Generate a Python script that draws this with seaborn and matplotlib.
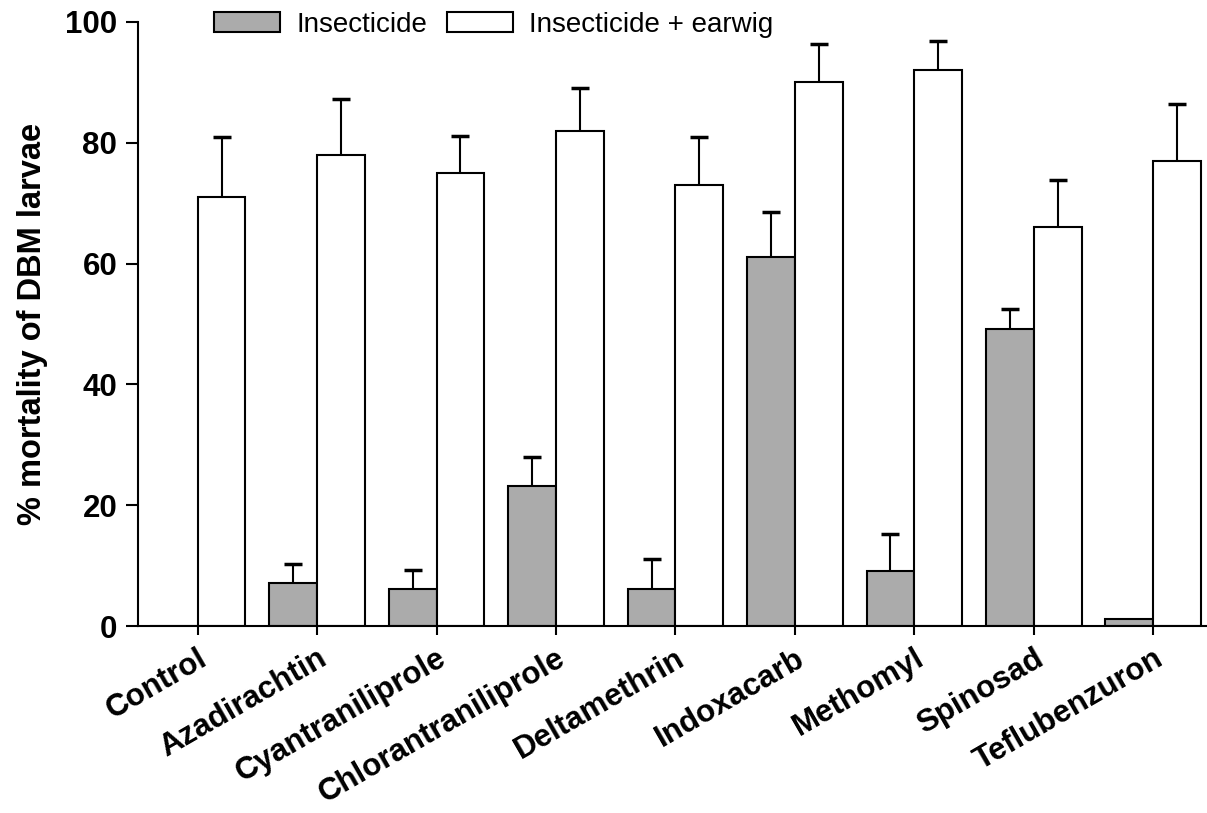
import pandas as pd
import matplotlib
matplotlib.use('Agg')
import matplotlib.pyplot as plt
import seaborn as sns

# Values
treatments = ['Control', 'Azadirachtin', 'Cyantraniliprole', 'Chlorantraniliprole',
              'Deltamethrin', 'Indoxacarb', 'Methomyl', 'Spinosad', 'Teflubenzuron']
insecticide = [0, 7.2, 6.1, 23.1, 6.1, 61.1, 9.1, 49.1, 1.2]
insecticide_err = [0, 3.0, 3.1, 4.9, 5.0, 7.4, 6.2, 3.4, 0]
earwig = [71, 78, 75, 82, 73, 90, 92, 66, 77]
earwig_err = [10.0, 9.2, 6.2, 7.1, 7.9, 6.3, 4.9, 7.9, 9.4]
groups = ['Insecticide', 'Insecticide + earwig']

df = pd.DataFrame({
    'Treatment': treatments * 2,
    'Group': [groups[0]] * len(treatments) + [groups[1]] * len(treatments),
    'Mortality': insecticide + earwig,
    'SE': insecticide_err + earwig_err,
})

sns.set_style('ticks')
plt.rcParams['font.family'] = ['Liberation Sans', 'DejaVu Sans']
plt.rcParams.update({'text.color': 'black', 'axes.labelcolor': 'black',
                     'xtick.color': 'black', 'ytick.color': 'black',
                     'axes.edgecolor': 'black'})

fig = plt.figure(figsize=(12.07, 8.13), dpi=100)
ax = fig.add_axes([0.1143, 0.23, 0.8857, 0.743])

sns.barplot(
    data=df, x='Treatment', y='Mortality', hue='Group',
    order=treatments, hue_order=groups,
    palette=['#ababab', 'white'], edgecolor='black', linewidth=1.5,
    width=0.8, errorbar=None, ax=ax, zorder=2
)

# one-sided (upper) error bars placed on the bars seaborn drew
for cont, g in zip(ax.containers, groups):
    sub = df[df['Group'] == g]
    xs = [p.get_x() + p.get_width() / 2 for p in cont.patches]
    errs = sub['SE'].tolist()
    vals = sub['Mortality'].tolist()
    keep = [i for i, e in enumerate(errs) if e > 0]
    eb = ax.errorbar([xs[i] for i in keep], [vals[i] for i in keep],
                     yerr=[[0] * len(keep), [errs[i] for i in keep]],
                     fmt='none', ecolor='black', elinewidth=1.5,
                     capsize=6.5, capthick=2.5, zorder=3)
    eb[1][0].set_visible(False)  # drop the lower caps

ax.set_ylim(0, 100)
ax.set_xlim(-0.5, 8.45)
ax.set_yticks([0, 20, 40, 60, 80, 100])
ax.set_xlabel('')
ax.set_ylabel('% mortality of DBM larvae', fontsize=23.5, fontweight='bold', labelpad=12)

for lab in ax.get_yticklabels():
    lab.set_fontsize(22.5)
    lab.set_fontweight('bold')
ax.set_xticks(range(len(treatments)))
ax.set_xticklabels(treatments, rotation=30, ha='right', va='top',
                   rotation_mode='anchor', fontsize=22.5, fontweight='bold')

ax.tick_params(axis='y', length=9, width=1.5, pad=6)
ax.tick_params(axis='x', length=6.5, width=1.5, pad=6)
for s in ['top', 'right']:
    ax.spines[s].set_visible(False)
for s in ['left', 'bottom']:
    ax.spines[s].set_linewidth(1.5)

ax.legend(loc='center', bbox_to_anchor=(0.333, 0.995), ncol=2, frameon=False,
          fontsize=20, handlelength=2.37, handleheight=0.75, handletextpad=0.58,
          columnspacing=0.72, borderaxespad=0)

fig.savefig('out.png', dpi=100)
